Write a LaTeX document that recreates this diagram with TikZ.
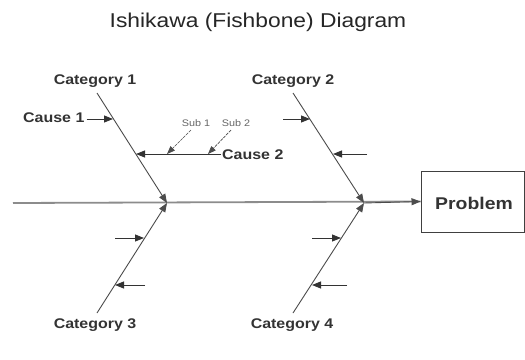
\documentclass[tikz,border=0pt]{standalone}
\usepackage{fontspec}
\setmainfont[FakeStretch=1.14]{Liberation Sans}
\usetikzlibrary{arrows.meta}
\begin{document}
\begin{tikzpicture}[x=1pt,y=-1pt,
  lbl/.style={font=\fontsize{14}{16}\selectfont\bfseries, text=black!80, inner sep=0pt, anchor=base},
  sublbl/.style={font=\fontsize{9.5}{10}\selectfont, text=black!60, inner sep=0pt, anchor=base},
  bone/.style={draw=black!70, line width=0.9pt, -{Triangle[length=9pt,width=7pt]}},
  arr/.style={draw=black!80, line width=0.9pt, -{Triangle[length=9pt,width=7pt]}},
  subarr/.style={draw=black!70, line width=0.7pt, dash pattern=on 3pt off 1pt, -{Triangle[length=8pt,width=6pt]}},
  spine/.style={draw=black!45, line width=1.8pt},
  boxstyle/.style={draw=black!75, line width=0.9pt, fill=white, minimum width=103pt, minimum height=61pt, inner sep=0pt}
]
\useasboundingbox (0,0) rectangle (525,359);
\fill[white] (0,0) rectangle (525,359);

% title
\node[font=\fontsize{20}{22}\selectfont, text=black!85, inner sep=0pt, anchor=base] (title) at (258,27) {Ishikawa (Fishbone) Diagram};

% problem box
\node[boxstyle] (prob) at (472.5,201.5) {};
\node[lbl, font=\fontsize{17}{19}\selectfont\bfseries] (probtext) at (474,209) {Problem};

% spine
\coordinate (spstart) at (13,203);
\coordinate (j1) at (167,203);
\coordinate (j2) at (364,203);
\draw[spine] (spstart) -- (prob.west);
\draw[arr, draw=black!70] (j2) -- (prob.west);

% bones
\coordinate (b1) at (97,93);
\coordinate (b2) at (293,93);
\coordinate (b3) at (97,313);
\coordinate (b4) at (293,313);
\draw[bone] (b1) -- (j1);
\draw[bone] (b3) -- (j1);
\draw[bone] (b2) -- (j2);
\draw[bone] (b4) -- (j2);

% category labels
\node[lbl] (cat1) at (95,84) {Category 1};
\node[lbl] (cat2) at (293,84) {Category 2};
\node[lbl] (cat3) at (95,328) {Category 3};
\node[lbl] (cat4) at (292,328) {Category 4};

% cause 1
\node[lbl, anchor=base west] (cause1) at (23,122) {Cause 1};
\coordinate (c1h) at (113,119);
\draw[arr] (cause1.east |- c1h) ++(2,0) coordinate (c1t) (c1t) -- (c1h);

% cause 2
\node[lbl, anchor=base west] (cause2) at (222,159) {Cause 2};
\coordinate (c2t) at (221,154);
\coordinate (c2h) at (136,154);
\draw[arr] (c2t) -- (c2h);

% subs
\node[sublbl] (sub1) at (196,126) {Sub 1};
\node[sublbl] (sub2) at (236,126) {Sub 2};
\coordinate (s1t) at (191,130);
\coordinate (s1h) at (167,154);
\coordinate (s2t) at (231,130);
\coordinate (s2h) at (208,154);
\draw[subarr] (s1t) -- (s1h);
\draw[subarr] (s2t) -- (s2h);

% category 2 causes
\coordinate (k1t) at (283,119);
\coordinate (k1h) at (310,119);
\coordinate (k2t) at (367,154);
\coordinate (k2h) at (333,154);
\draw[arr] (k1t) -- (k1h);
\draw[arr] (k2t) -- (k2h);

% category 3 causes
\coordinate (m1t) at (115,238);
\coordinate (m1h) at (144,238);
\coordinate (m2t) at (145,285);
\coordinate (m2h) at (115,285);
\draw[arr] (m1t) -- (m1h);
\draw[arr] (m2t) -- (m2h);

% category 4 causes
\coordinate (n1t) at (312,238);
\coordinate (n1h) at (341,238);
\coordinate (n2t) at (347,285);
\coordinate (n2h) at (312,285);
\draw[arr] (n1t) -- (n1h);
\draw[arr] (n2t) -- (n2h);
\end{tikzpicture}
\end{document}
